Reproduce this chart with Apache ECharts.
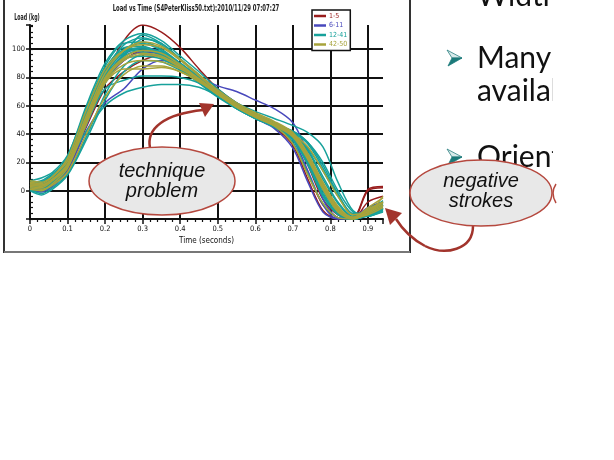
<!DOCTYPE html>
<html><head><meta charset="utf-8">
<script src="https://cdn.jsdelivr.net/npm/echarts@6/dist/echarts.min.js"></script>
<style>html,body{margin:0;padding:0;background:#fff}#c{width:614px;height:460px}</style>
</head><body><div id="c"></div>
<script>
// ---- data ----
const timeSec = [0, 0.03, 0.06, 0.1, 0.15, 0.2, 0.25, 0.3, 0.35, 0.4, 0.45, 0.5, 0.55, 0.6, 0.65, 0.7, 0.74, 0.78, 0.82, 0.86, 0.9, 0.94];
const xTickLabels = ['0', '0.1', '0.2', '0.3', '0.4', '0.5', '0.6', '0.7', '0.8', '0.9'];
const yTickLabels = ['0', '20', '40', '60', '80', '100'];
const groupNames = ['1-5', '6-11', '12-41', '42-50'];

const loads1to5 = [
  [4, 3, 7, 18, 48, 80, 106, 117, 112, 101, 86, 72, 62, 54, 47, 38, 18, -6, -17, -19, 1, 3],
  [2, 0, 4, 15, 45, 72, 84, 92, 96, 88, 78, 68, 59, 52, 45, 32, 8, -14, -20, -20, -8, -4],
  [5, 4, 8, 18, 50, 78, 92, 99, 97, 89, 79, 69, 60, 53, 46, 33, 12, -10, -19, -20, 0, 2]
];
const loads6to11 = [
  [1, -1, 3, 14, 42, 62, 72, 86, 92, 88, 80, 74, 70, 64, 58, 48, 26, -6, -19, -20, -12, -8],
  [3, 2, 5, 16, 46, 76, 92, 98, 96, 88, 78, 68, 59, 51, 44, 30, 6, -15, -20, -19, -12, -9],
  [2, 1, 6, 17, 47, 79, 96, 101, 98, 90, 79, 69, 60, 53, 46, 36, 14, -10, -20, -20, -14, -10]
];
const loads12to41 = [
  [5, 6, 11, 20, 42, 60, 69, 73, 75, 75, 73, 67, 60, 53, 47, 39, 24, 2, -14, -20, -13, -8],
  [6, 7, 12, 22, 50, 80, 95, 99, 96, 88, 78, 70, 62, 56, 51, 46, 41, 31, 6, -14, -18, -12],
  [4, 5, 10, 24, 60, 90, 106, 111, 106, 95, 84, 72, 62, 54, 48, 40, 25, 3, -13, -19, -15, -10],
  [3, 4, 9, 20, 53, 84, 103, 108, 103, 93, 82, 70, 61, 54, 47, 39, 22, 0, -15, -20, -16, -12],
  [7, 9, 13, 25, 58, 88, 104, 105, 100, 90, 80, 69, 60, 53, 47, 42, 34, 18, -2, -16, -15, -9],
  [2, 1, 6, 18, 50, 81, 98, 101, 97, 88, 78, 68, 59, 52, 46, 34, 12, -9, -19, -20, -17, -13],
  [4, 3, 8, 19, 52, 83, 100, 104, 99, 89, 79, 68, 60, 53, 47, 40, 28, 8, -9, -19, -16, -11],
  [1, -2, 2, 12, 38, 68, 88, 96, 95, 87, 77, 67, 58, 51, 45, 36, 19, -2, -16, -20, -18, -15],
  [5, 6, 10, 21, 54, 85, 101, 102, 96, 86, 76, 66, 58, 51, 45, 37, 21, 0, -14, -19, -15, -12],
  [3, 2, 7, 18, 49, 79, 93, 95, 93, 86, 77, 67, 59, 52, 46, 42, 34, 20, 0, -15, -17, -14],
  [6, 5, 9, 20, 51, 82, 97, 100, 98, 90, 80, 69, 60, 53, 48, 41, 33, 16, -3, -17, -18, -13],
  [0, -3, 1, 11, 36, 64, 84, 92, 91, 85, 77, 67, 58, 51, 45, 36, 18, -4, -17, -21, -15, -7],
  [4, 4, 9, 19, 50, 80, 96, 110, 104, 93, 81, 70, 61, 54, 48, 41, 29, 10, -8, -18, -14, -10],
  [2, 0, 4, 16, 47, 72, 78, 81, 81, 80, 76, 67, 59, 52, 46, 38, 24, 4, -12, -19, -16, -12],
  [3, 2, 8, 21, 56, 86, 99, 98, 94, 86, 77, 68, 60, 53, 47, 40, 30, 14, -4, -17, -18, -14],
  [5, 3, 6, 17, 47, 76, 95, 107, 104, 93, 81, 69, 60, 53, 46, 37, 20, -3, -16, -20, -17, -10]
];
const loads42to50 = [
  [4, 3, 8, 18, 49, 78, 92, 96, 94, 87, 78, 68, 59, 52, 46, 38, 22, 1, -15, -20, -14, -9],
  [6, 5, 10, 23, 57, 86, 99, 103, 101, 92, 81, 70, 61, 54, 48, 40, 25, 4, -12, -19, -13, -8],
  [2, 1, 4, 13, 40, 66, 82, 88, 88, 84, 77, 68, 59, 52, 46, 39, 24, 3, -13, -20, -16, -11],
  [5, 4, 8, 19, 51, 80, 94, 99, 97, 89, 79, 69, 60, 53, 47, 39, 23, 2, -14, -19, -12, -5],
  [3, 2, 7, 17, 48, 77, 89, 92, 91, 86, 78, 68, 60, 53, 47, 40, 31, 14, -4, -17, -15, -8],
  [7, 6, 10, 21, 53, 83, 99, 105, 102, 93, 82, 71, 62, 55, 49, 41, 26, 5, -12, -19, -17, -12],
  [1, 0, 5, 16, 47, 76, 86, 86, 87, 84, 77, 68, 59, 52, 46, 33, 11, -9, -19, -20, -15, -10],
  [4, 4, 8, 18, 50, 79, 93, 97, 95, 88, 79, 69, 60, 53, 47, 40, 26, 6, -11, -19, -16, -4]
];

// ---- styling ----
const groupColors = ['#981c1c', '#4848bc', '#17a19b', '#a7a33b'];
const NARROW = "'Liberation Sans Narrow','DejaVu Sans Condensed',sans-serif";
const groups = [loads1to5, loads6to11, loads12to41, loads42to50];

const series = [];
groups.forEach((g, gi) => {
  g.forEach(vals => {
    series.push({
      type: 'line', name: groupNames[gi], smooth: 0.3, showSymbol: false, symbol: 'none',
      data: timeSec.map((t, i) => [t, vals[i]]),
      lineStyle: { width: 1.5, color: groupColors[gi] },
      itemStyle: { color: groupColors[gi] },
      z: 2 + gi, silent: true
    });
  });
});

const chart = echarts.init(document.getElementById('c'), null, { renderer: 'canvas' });
const dark = '#a2342c';
chart.setOption({
  animation: false,
  backgroundColor: '#fff',
  grid: { left: 30, right: 231, top: 25, bottom: 241, containLabel: false },
  legend: {
    orient: 'vertical', left: 312, top: 10,
    data: groupNames.map((n, i) => ({ name: n, textStyle: { color: groupColors[i] } })),
    icon: 'rect', itemWidth: 12, itemHeight: 2.5, itemGap: 1.5,
    backgroundColor: '#fff', borderColor: '#111', borderWidth: 1.5, borderRadius: 0,
    padding: [2, 3, 2, 2],
    textStyle: { fontFamily: NARROW, fontSize: 7, lineHeight: 8, padding: [0, 0, 0, -2] },
    selectedMode: false, z: 20
  },
  xAxis: {
    type: 'value', min: 0, max: 0.94, interval: 0.1,
    name: 'Time (seconds)', nameLocation: 'middle', nameGap: 18,
    nameTextStyle: { fontFamily: NARROW, fontSize: 8, color: '#111' },
    axisLine: { show: true, onZero: false, lineStyle: { color: '#111', width: 2 } },
    axisTick: { show: true, length: 5, lineStyle: { color: '#111', width: 1.5 } },
    minorTick: { show: true, splitNumber: 5, length: 3, lineStyle: { color: '#111', width: 1.2 } },
    axisLabel: {
      fontFamily: NARROW, fontSize: 7.5, color: '#111', margin: 6,
      showMaxLabel: false,
      formatter: v => { const k = Math.round(v * 10); return Math.abs(v * 10 - k) < 1e-6 && k < xTickLabels.length ? xTickLabels[k] : ''; }
    },
    splitLine: { show: true, showMinLine: false, showMaxLine: false, lineStyle: { color: '#111', width: 2 } }
  },
  yAxis: [{
    type: 'value', min: -20, max: 117, interval: 20,
    axisLine: { show: true, onZero: false, lineStyle: { color: '#111', width: 2 } },
    axisTick: { show: true, length: 4, lineStyle: { color: '#111', width: 1.5 } },
    axisLabel: {
      fontFamily: NARROW, fontSize: 7.5, color: '#111', margin: 5,
      formatter: v => { const k = Math.round(v / 20); return Math.abs(v / 20 - k) < 1e-6 && k >= 0 && k < yTickLabels.length ? yTickLabels[k] : ''; }
    },
    splitLine: { show: true, showMinLine: false, showMaxLine: false, lineStyle: { color: '#111', width: 2 } }
  }, {
    type: 'value', min: -20, max: 117, interval: 4, position: 'left',
    axisLine: { show: false }, axisLabel: { show: false }, splitLine: { show: false },
    axisTick: { show: true, inside: true, length: 3, lineStyle: { color: '#111', width: 1.2 } }
  }],
  series: series,
  graphic: [
    { type: 'line', z: 100, shape: { x1: 4, y1: 0, x2: 4, y2: 253 }, style: { stroke: '#333', lineWidth: 2 } },
    { type: 'line', z: 100, shape: { x1: 410, y1: 0, x2: 410, y2: 253 }, style: { stroke: '#333', lineWidth: 2 } },
    { type: 'line', z: 100, shape: { x1: 4, y1: 252, x2: 410, y2: 252 }, style: { stroke: '#777', lineWidth: 2 } },
    { type: 'text', z: 100, x: 196, y: 9, scaleX: 0.66, style: { text: 'Load vs Time (S4PeterKliss50.txt):2010/11/29 07:07:27', font: 'bold 9px ' + NARROW, fill: '#222', align: 'center', verticalAlign: 'middle' } },
    { type: 'text', z: 100, x: 27, y: 18, scaleX: 0.66, style: { text: 'Load (kg)', font: 'bold 8px ' + NARROW, fill: '#222', align: 'center', verticalAlign: 'middle' } },
    // slide text on the right
    { type: 'text', z: 100, x: 477, y: -4, style: { text: 'Width', font: '30px Lato', fill: '#111', align: 'left', verticalAlign: 'middle' } },
    { type: 'text', z: 100, x: 477, y: 58, style: { text: 'Many types of', font: '30px Lato', fill: '#111', align: 'left', verticalAlign: 'middle' } },
    { type: 'text', z: 100, x: 477, y: 91, style: { text: 'available', font: '30px Lato', fill: '#111', align: 'left', verticalAlign: 'middle' } },
    { type: 'text', z: 100, x: 477, y: 157, style: { text: 'Orientation', font: '30px Lato', fill: '#111', align: 'left', verticalAlign: 'middle' } },
    { type: 'rect', z: 101, shape: { x: 553, y: 0, width: 61, height: 460 }, style: { fill: '#fff' } },
    { type: 'polygon', z: 101, shape: { points: [[447, 50], [462, 58], [452, 58]] }, style: { fill: '#d8eaea', stroke: '#2b7f80', lineWidth: 0.8 } },
    { type: 'polygon', z: 101, shape: { points: [[452, 58], [462, 58], [448, 66]] }, style: { fill: '#1b7a7a', stroke: '#1b7a7a', lineWidth: 0.8 } },
    { type: 'polygon', z: 101, shape: { points: [[447, 149], [462, 157], [452, 157]] }, style: { fill: '#d8eaea', stroke: '#2b7f80', lineWidth: 0.8 } },
    { type: 'polygon', z: 101, shape: { points: [[452, 157], [462, 157], [448, 165]] }, style: { fill: '#1b7a7a', stroke: '#1b7a7a', lineWidth: 0.8 } },
    // callouts
    { type: 'bezierCurve', z: 102, shape: { x1: 150, y1: 148, cpx1: 146, cpy1: 128, cpx2: 165, cpy2: 114, x2: 203, y2: 110 }, style: { fill: null, stroke: dark, lineWidth: 2.5 } },
    { type: 'polygon', z: 102, shape: { points: [[214, 104], [199, 103], [205, 117]] }, style: { fill: dark } },
    { type: 'ellipse', z: 103, shape: { cx: 162, cy: 181, rx: 73, ry: 34 }, style: { fill: '#e8e8e8', stroke: '#b5483e', lineWidth: 1.5 } },
    { type: 'text', z: 104, x: 162, y: 181, style: { text: 'technique\nproblem', font: 'italic 20px "Liberation Sans", Arial, sans-serif', lineHeight: 20, fill: '#111', align: 'center', verticalAlign: 'middle' } },
    { type: 'bezierCurve', z: 102, shape: { x1: 473, y1: 226, cpx1: 473, cpy1: 250, cpx2: 445, cpy2: 256, x2: 425, y2: 246 }, style: { fill: null, stroke: dark, lineWidth: 2.5 } },
    { type: 'bezierCurve', z: 102, shape: { x1: 425, y1: 246, cpx1: 410, cpy1: 238, cpx2: 401, cpy2: 227, x2: 396, y2: 219 }, style: { fill: null, stroke: dark, lineWidth: 2.5 } },
    { type: 'polygon', z: 102, shape: { points: [[385, 208], [402, 213], [390, 225]] }, style: { fill: dark } },
    { type: 'ellipse', z: 103, shape: { cx: 481, cy: 193, rx: 71, ry: 33 }, style: { fill: '#e8e8e8', stroke: '#b5483e', lineWidth: 1.5 } },
    { type: 'text', z: 104, x: 481, y: 191, style: { text: 'negative\nstrokes', font: 'italic 20px "Liberation Sans", Arial, sans-serif', lineHeight: 20, fill: '#111', align: 'center', verticalAlign: 'middle' } },
    { type: 'bezierCurve', z: 104, shape: { x1: 556, y1: 184, cpx1: 550, cpy1: 193, x2: 556, y2: 203 }, style: { fill: null, stroke: '#b5483e', lineWidth: 1.5 } }
  ]
});
</script>
</body></html>
